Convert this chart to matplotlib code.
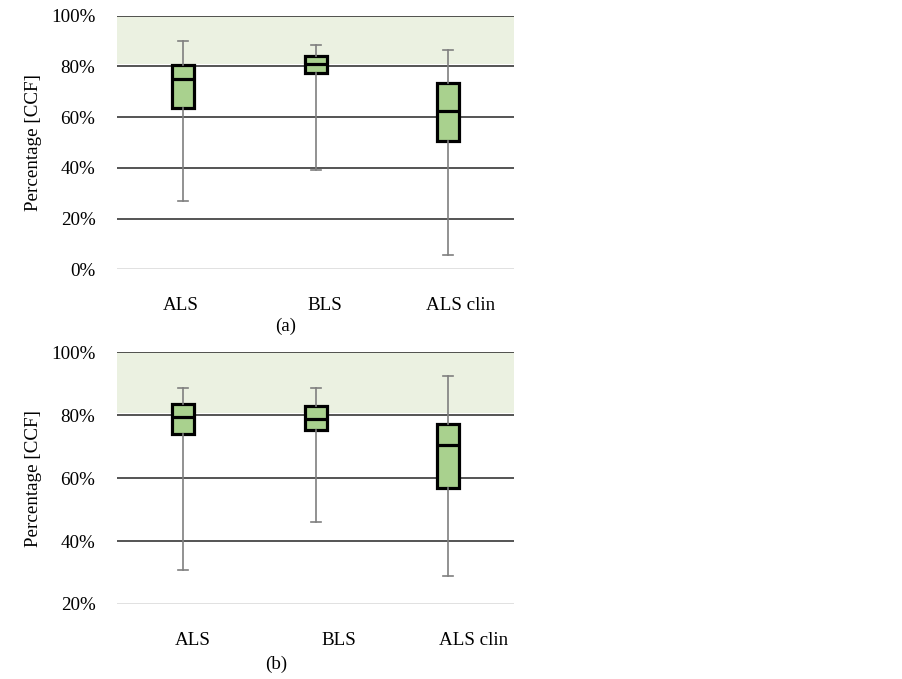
import matplotlib
matplotlib.use("Agg")
import matplotlib.pyplot as plt
from matplotlib.transforms import ScaledTranslation

plt.rcParams['font.family'] = ['Liberation Serif', 'DejaVu Serif']
plt.rcParams['font.size'] = 13.7

categories = ['ALS', 'BLS', 'ALS clin']

a_whislo = [26.9, 39.0, 5.6]
a_q1 = [63.7, 77.4, 50.5]
a_med = [75.0, 81.0, 62.4]
a_q3 = [80.6, 84.1, 73.5]
a_whishi = [90.0, 88.6, 86.4]

b_whislo = [30.7, 46.1, 28.8]
b_q1 = [73.9, 75.2, 57.0]
b_med = [79.3, 78.9, 70.6]
b_q3 = [83.6, 82.9, 77.1]
b_whishi = [88.8, 88.8, 92.5]

a_yticks = [0, 20, 40, 60, 80, 100]
b_yticks = [20, 40, 60, 80, 100]
band_lo, band_hi = 80.8, 100

a_label_shift = [-2, 9, 12]
b_label_shift = [10, 23, 25]

BOX = '#a9d18e'
BAND = '#ebf1e1'
GRID = '#262626'
WHISK = '#7f7f7f'
LIGHT = '#d9d9d9'

fig = plt.figure(figsize=(9.03, 6.79), dpi=100)
W, H = 903, 679


def make_axes(top_px, bottom_px):
    left, right = 117, 514.3
    return fig.add_axes([left / W, 1 - bottom_px / H, (right - left) / W, (bottom_px - top_px) / H])


def draw(ax, whislo, q1, med, q3, whishi, yticks, shifts, caption_x, cap_y, caption):
    stats = []
    for i in range(len(categories)):
        stats.append(dict(label=categories[i], whislo=whislo[i], q1=q1[i], med=med[i],
                          q3=q3[i], whishi=whishi[i], fliers=[]))
    pos = list(range(len(categories)))
    ax.bxp(stats, positions=pos, widths=0.165, patch_artist=True, showfliers=False,
           boxprops=dict(facecolor=BOX, edgecolor='black', linewidth=2.3),
           medianprops=dict(color='black', linewidth=2.3),
           whiskerprops=dict(color=WHISK, linewidth=1.2),
           capprops=dict(color=WHISK, linewidth=1.2),
           capwidths=0.075, zorder=3)
    ax.axhspan(band_lo, band_hi, color=BAND, zorder=0.2, linewidth=0)
    ax.set_xlim(-0.5, len(categories) - 0.5)
    ax.set_ylim(yticks[0], yticks[-1])
    ax.set_yticks(yticks)
    ax.set_yticklabels([f'{t}%' for t in yticks])
    ax.set_xticks(pos)
    ax.set_xticklabels(categories)
    ax.set_axisbelow(True)
    ax.grid(axis='y', color=GRID, linewidth=1.1)
    ax.grid(axis='x', visible=False)
    gl = ax.yaxis.get_gridlines()
    gl[0].set_color(LIGHT)
    for s in ax.spines.values():
        s.set_visible(False)
    ax.tick_params(axis='y', length=0, pad=15.5)
    ax.tick_params(axis='x', length=0, pad=20)
    for lab, sh in zip(ax.get_xticklabels(), shifts):
        lab.set_transform(lab.get_transform() + ScaledTranslation(sh / 100, 0, fig.dpi_scale_trans))
    ax.set_ylabel('Percentage [CCF]')
    ax.yaxis.set_label_coords(-0.19, 0.5)
    fig.text(caption_x / W, 1 - cap_y / H, caption, ha='center', va='center')


ax1 = make_axes(15.7, 269.3)
draw(ax1, a_whislo, a_q1, a_med, a_q3, a_whishi, a_yticks, a_label_shift, 286, 326, '(a)')
ax2 = make_axes(352.3, 604)
draw(ax2, b_whislo, b_q1, b_med, b_q3, b_whishi, b_yticks, b_label_shift, 276, 664, '(b)')

fig.savefig('out.png', dpi=100)
